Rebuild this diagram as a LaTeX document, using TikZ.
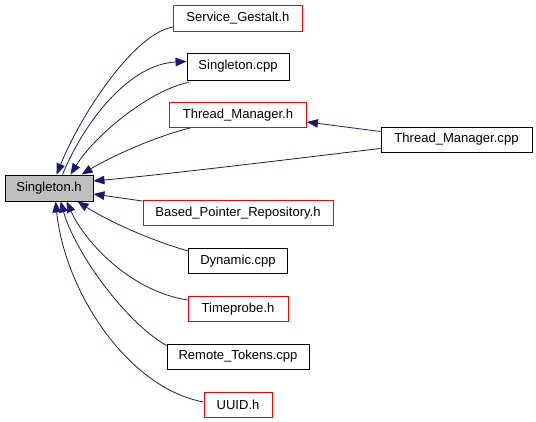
\documentclass[tikz,border=0pt]{standalone}
\usepackage{fontspec}
\setmainfont{Liberation Sans}
\usetikzlibrary{arrows.meta}
\definecolor{edgeblue}{HTML}{191970}
\definecolor{boxgray}{HTML}{BFBFBF}
\begin{document}
\begin{tikzpicture}[x=1bp,y=-1bp,
  box/.style={draw=black,line width=0.9bp,rectangle,minimum height=25bp,inner sep=0pt,font=\fontsize{13.1}{14}\selectfont},
  redbox/.style={box,draw=red},
  edge/.style={draw=edgeblue,line width=0.8bp,-{Triangle[length=11bp,width=8.5bp]}}]
\useasboundingbox (0,0) rectangle (536,421);
\node[box,fill=boxgray,minimum width=88bp,minimum height=26bp] (sh) at (49,188) {Singleton.h};
\node[redbox,minimum width=129bp,minimum height=26bp] (sg) at (238,18) {Service\_Gestalt.h};
\node[box,minimum width=102bp,minimum height=27bp] (sc) at (238,66.5) {Singleton.cpp};
\node[redbox,minimum width=137bp] (tmh) at (238,115) {Thread\_Manager.h};
\node[box,minimum width=151bp] (tmc) at (456.5,139.5) {Thread\_Manager.cpp};
\node[redbox,minimum width=190bp] (bpr) at (238,213) {Based\_Pointer\_Repository.h};
\node[box,minimum width=99bp] (dyn) at (238,261) {Dynamic.cpp};
\node[redbox,minimum width=100bp] (tp) at (238,309) {Timeprobe.h};
\node[box,minimum width=142bp] (rt) at (238,356.5) {Remote\_Tokens.cpp};
\node[redbox,minimum width=68bp] (uuid) at (238,405) {UUID.h};

\draw[edge] ([yshift=-9bp]sg.west) .. controls (135,33) and (82,112) .. ([xshift=52bp]sh.north west);
\draw[edge] ([xshift=58bp]sh.north west) .. controls (85,120) and (130,64) .. ([yshift=5bp]sc.west);
\draw[edge] ([xshift=2bp,yshift=-2bp]sc.south west) .. controls (150,90) and (95,135) .. ([xshift=66bp]sh.north west);
\draw[edge] ([xshift=21bp]tmh.south west) .. controls (150,138) and (105,160) .. ([xshift=77bp]sh.north west);
\draw[edge] ([yshift=4bp]tmc.south west) .. controls (300,158) and (170,174) .. ([yshift=7bp]sh.east);
\draw[edge] ([yshift=8bp]tmc.west) -- ([yshift=-7bp]tmh.east);
\draw[edge] ([yshift=-1bp]bpr.north west) -- ([yshift=-6bp]sh.east);
\draw[edge] ([yshift=10bp]dyn.west) .. controls (140,237) and (100,216) .. ([xshift=73bp]sh.south west);
\draw[edge] ([yshift=9bp]tp.west) .. controls (130,291) and (85,242) .. ([xshift=62bp]sh.south west);
\draw[edge] ([yshift=11bp]rt.west) .. controls (125,322) and (75,252) .. ([xshift=56bp]sh.south west);
\draw[edge] ([yshift=3bp]uuid.west) .. controls (128,388) and (65,292) .. ([xshift=51bp]sh.south west);
\end{tikzpicture}
\end{document}
